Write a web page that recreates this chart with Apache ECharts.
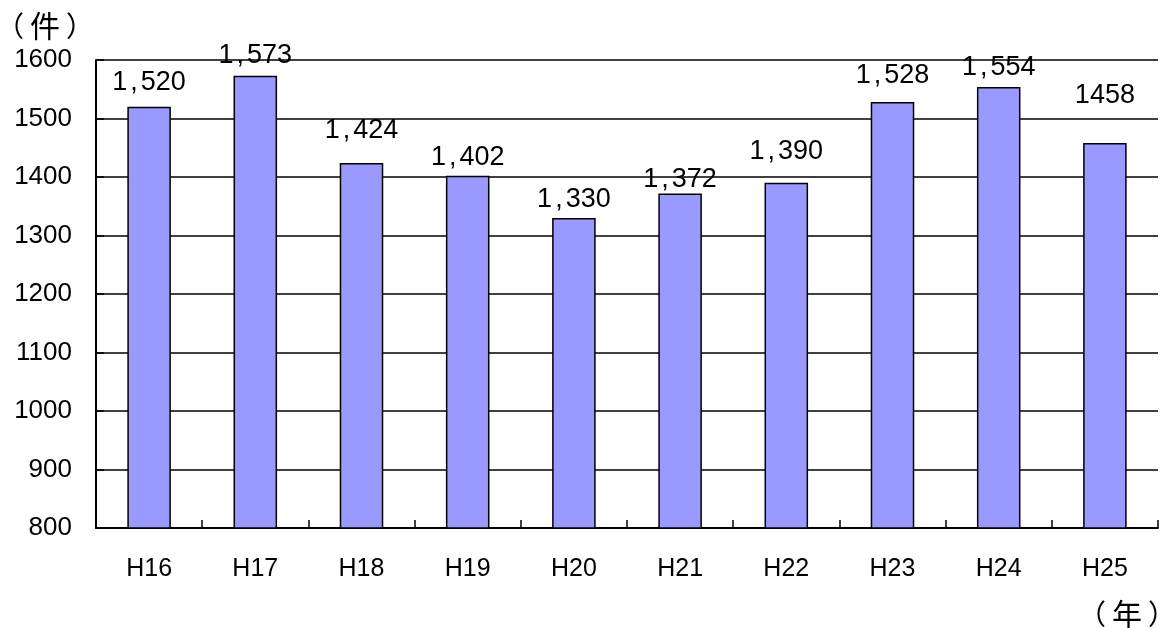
<!DOCTYPE html>
<html><head><meta charset="utf-8">
<script src="https://cdn.jsdelivr.net/npm/echarts@6/dist/echarts.min.js"></script>
<style>html,body{margin:0;padding:0;background:#fff}#c{width:1162px;height:628px}</style>
</head><body><div id="c"></div>
<script>
const categories = ['H16','H17','H18','H19','H20','H21','H22','H23','H24','H25'];
const values = [1520,1573,1424,1402,1330,1372,1390,1528,1554,1458];
const valueLabels = ['1,520','1,573','1,424','1,402','1,330','1,372','1,390','1,528','1,554','1458'];
const yTicks = {min: 800, max: 1600, interval: 100};
const yUnit = ['（', '件', '）'];
const xUnit = ['（', '年', '）'];
// label nudges (style only)
const labelNudgeY = [-6,-2,-14,0,0,5,-13,-8,-1,-29];

const font = "'Liberation Sans', Arial, sans-serif";
const cjk = "'Noto Sans CJK JP', sans-serif";

function richText(s){
  const i = s.indexOf(',');
  if (i < 0) return '{d|' + s + '}';
  return '{d|' + s.slice(0,i) + '}{c|,}{d|' + s.slice(i+1) + '}';
}
function unitRich(u){
  return {
    text: '{p|' + u[0] + '}{k|' + u[1] + '}{p|' + u[2] + '}',
    rich: {
      p: {fontSize: 28, fontFamily: cjk, fill: '#000', color: '#000'},
      k: {fontSize: 30, fontFamily: cjk, fill: '#000', color: '#000', padding: [0, 6, 0, 6]}
    }
  };
}

const chart = echarts.init(document.getElementById('c'), null, {renderer:'canvas'});
chart.setOption({
  animation: false,
  grid: {left: 96, right: 4, top: 60, bottom: 100, containLabel: false},
  xAxis: {
    type: 'category', data: categories,
    axisLine: {lineStyle: {color: '#000', width: 2}},
    axisTick: {show: true, inside: true, length: 8, alignWithLabel: false, lineStyle: {color:'#000', width: 1.5}},
    axisLabel: {color: '#000', fontSize: 25, fontFamily: font, margin: 29}
  },
  yAxis: {
    type: 'value', min: yTicks.min, max: yTicks.max, interval: yTicks.interval,
    axisLine: {show: true, lineStyle: {color: '#000', width: 2}},
    axisTick: {show: true, inside: true, length: 8, lineStyle: {color:'#000', width: 1.5}},
    axisLabel: {color: '#000', fontSize: 26, fontFamily: font, margin: 24, formatter: v => String(v)},
    splitLine: {show: true, lineStyle: {color: '#000', width: 1.5}}
  },
  series: [{
    type: 'bar', barWidth: '41%',
    itemStyle: {color: '#9999FF', borderColor: '#000', borderWidth: 1.5},
    data: values.map((v, i) => ({
      value: v,
      label: {offset: [0, labelNudgeY[i]]}
    })),
    label: {
      show: true, position: 'top', distance: 5,
      formatter: p => richText(valueLabels[p.dataIndex]),
      rich: {
        d: {fontSize: 27, fontFamily: font, color: '#000'},
        c: {fontSize: 27, fontFamily: font, color: '#000', padding: [0, 3, 0, 3]}
      }
    }
  }],
  graphic: [
    {type: 'text', x: -4, y: 11, style: unitRich(yUnit)},
    {type: 'text', x: 1078, y: 599, style: unitRich(xUnit)}
  ]
});
</script></body></html>
